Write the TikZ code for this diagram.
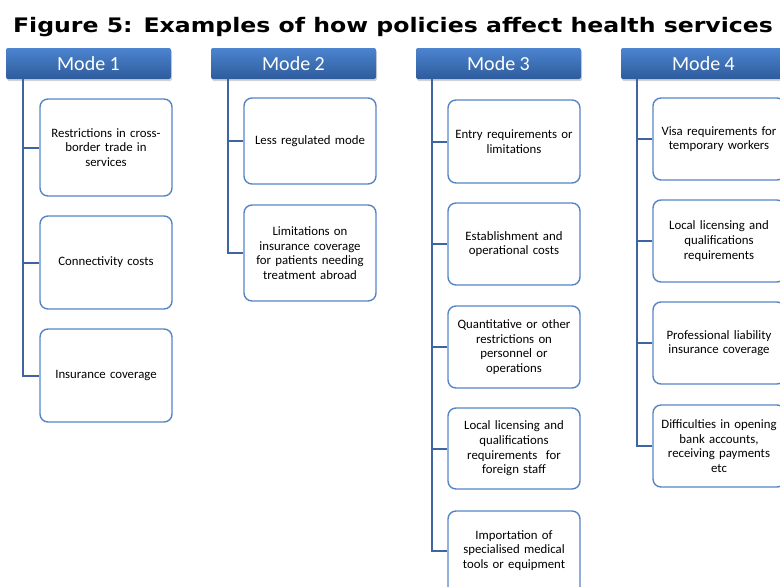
\documentclass[tikz,border=0pt]{standalone}
\usepackage{fontspec}
\setmainfont{Carlito}
\newfontfamily\titlefont[FakeStretch=1.18]{DejaVu Sans Bold}
\usetikzlibrary{shadows}
\definecolor{hdtop}{HTML}{4C84CF}
\definecolor{hdbot}{HTML}{2E5C9C}
\definecolor{connc}{HTML}{3E65A1}
\definecolor{boxc}{HTML}{5685C6}
\tikzset{
  header/.style={rectangle, rounded corners=2pt, top color=hdtop, bottom color=hdbot,
    minimum width=165pt, minimum height=31pt, inner sep=0pt, text=white,
    font=\fontsize{20}{22}\selectfont,
    drop shadow={opacity=0.35, shadow xshift=1pt, shadow yshift=-2pt}},
  item/.style={rectangle, rounded corners=8pt, draw=boxc, line width=1.4pt, fill=white,
    minimum width=132pt, inner sep=0pt, text width=126pt, align=center,
    font=\fontsize{12.8}{14.6}\selectfont},
  itemtext/.style={inner sep=0pt, text width=126pt, align=center,
    font=\fontsize{12.8}{14.6}\selectfont},
  conn/.style={draw=connc, line width=2pt}
}
\begin{document}
\begin{tikzpicture}[x=1pt,y=-1pt]
\useasboundingbox (0,0) rectangle (780,587);
\clip (0,0) rectangle (780,587);
\node[font=\titlefont\fontsize{20}{22}\selectfont, anchor=base] (title) at (393,32) {Figure 5: Examples of how policies affect health services};

% Mode 1
\node[header] (h1) at (88.5,63.5) {Mode 1};
\node[item, minimum height=97pt] (m1a) at (106,147.5) {Restrictions in cross-\\border trade in\\services};
\node[item, minimum height=93pt] (m1b) at (106,262.5) {Connectivity costs};
\node[item, minimum height=93pt] (m1c) at (106,375.5) {Insurance coverage};
\coordinate (s1) at ([xshift=17pt]h1.south west);
\draw[conn] (s1) |- (m1c.west);
\draw[conn] (m1a.west) -- (m1a.west -| s1);
\draw[conn] (m1b.west) -- (m1b.west -| s1);

% Mode 2
\node[header] (h2) at (293.5,63.5) {Mode 2};
\node[item, minimum height=86pt] (m2a) at (310,141) {Less regulated mode};
\node[item, minimum height=96pt] (m2b) at (310,253) {Limitations on\\insurance coverage\\for patients needing\\treatment abroad};
\coordinate (s2) at ([xshift=17pt]h2.south west);
\draw[conn] (s2) |- (m2b.west);
\draw[conn] (m2a.west) -- (m2a.west -| s2);

% Mode 3
\node[header] (h3) at (498.5,63.5) {Mode 3};
\node[item, minimum height=83pt] (m3a) at (514,141.5) {Entry requirements or\\limitations};
\node[item, minimum height=82pt] (m3b) at (514,244) {Establishment and\\operational costs};
\node[item, minimum height=82pt] (m3c) at (514,347) {Quantitative or other\\restrictions on\\personnel or\\operations};
\node[item, minimum height=81pt] (m3d) at (514,448.5) {Local licensing and\\qualifications\\requirements\ \ for\\foreign staff};
\node[item, minimum height=92pt] (m3e) at (514,557) {};
\node[itemtext] (m3et) at (514,550.5) {Importation of\\specialised medical\\tools or equipment};
\coordinate (s3) at ([xshift=16pt]h3.south west);
\draw[conn] (s3) |- (m3e.west |- m3et.center);
\draw[conn] (m3a.west) -- (m3a.west -| s3);
\draw[conn] (m3b.west) -- (m3b.west -| s3);
\draw[conn] (m3c.west) -- (m3c.west -| s3);
\draw[conn] (m3d.west) -- (m3d.west -| s3);

% Mode 4
\node[header] (h4) at (703.5,63.5) {Mode 4};
\node[item, minimum height=82pt] (m4a) at (719,139) {Visa requirements for\\temporary workers};
\node[item, minimum height=82pt] (m4b) at (719,241) {Local licensing and\\qualifications\\requirements};
\node[item, minimum height=82pt] (m4c) at (719,343) {Professional liability\\insurance coverage};
\node[item, minimum height=82pt] (m4d) at (719,446) {Difficulties in opening\\bank accounts,\\receiving payments\\etc};
\coordinate (s4) at ([xshift=16pt]h4.south west);
\draw[conn] (s4) |- (m4d.west);
\draw[conn] (m4a.west) -- (m4a.west -| s4);
\draw[conn] (m4b.west) -- (m4b.west -| s4);
\draw[conn] (m4c.west) -- (m4c.west -| s4);
\end{tikzpicture}
\end{document}
